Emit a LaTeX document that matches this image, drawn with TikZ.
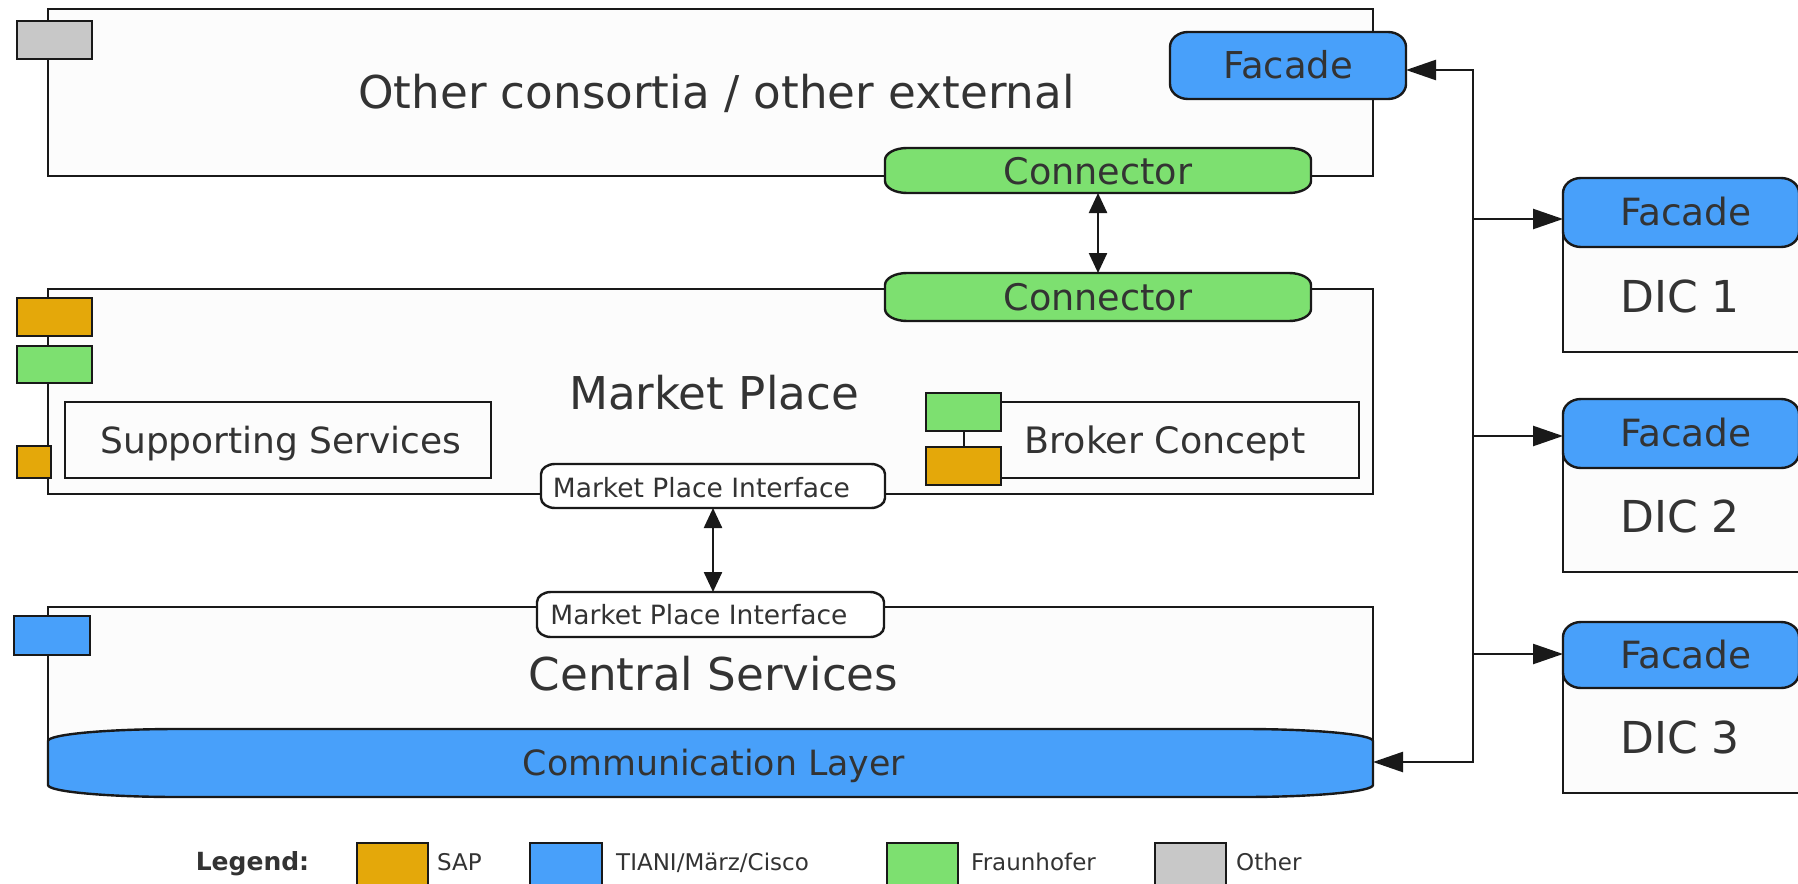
\documentclass[tikz,border=0pt]{standalone}
\usepackage{fontspec}
\setmainfont{DejaVu Sans}
\usetikzlibrary{arrows.meta}
\definecolor{cblue}{RGB}{72,160,250}
\definecolor{cgreen}{RGB}{125,224,112}
\definecolor{corange}{RGB}{228,168,10}
\definecolor{cgray}{RGB}{200,200,200}
\definecolor{cfill}{RGB}{252,252,252}
\definecolor{ctext}{RGB}{51,51,51}
\definecolor{cline}{RGB}{25,25,25}
\newcommand\fs[1]{\fontsize{#1}{#1}\selectfont}
% rectangle node from corner to corner
\newcommand\boxat[6]{\node[#6, anchor=north west, minimum width={#4-#2}, minimum height={#5-#3}] (#1) at (#2,#3) {};}
% barrel shaped node (elliptic corners): name x1 y1 x2 y2 rx ry fill
\newcommand\barrelnode[8]{%
  \path[draw=cline, line width=2.4pt, fill=#8]
    (#2,#3+#7) .. controls (#2,#3+0.448*#7) and (#2+0.448*#6,#3) .. (#2+#6,#3)
    -- (#4-#6,#3) .. controls (#4-0.448*#6,#3) and (#4,#3+0.448*#7) .. (#4,#3+#7)
    -- (#4,#5-#7) .. controls (#4,#5-0.448*#7) and (#4-0.448*#6,#5) .. (#4-#6,#5)
    -- (#2+#6,#5) .. controls (#2+0.448*#6,#5) and (#2,#5-0.448*#7) .. (#2,#5-#7) -- cycle;
  \node[inner sep=0pt, outer sep=0pt, anchor=north west, minimum width={#4-#2}, minimum height={#5-#3}] (#1) at (#2,#3) {};}
\tikzset{
  ln/.style={draw=cline, line width=2.4pt},
  cont/.style={ln, fill=cfill, inner sep=0pt, outer sep=0pt},
  lbl/.style={text=ctext, inner sep=0pt, anchor=base},
  lblw/.style={text=ctext, inner sep=0pt, anchor=base west},
  arr/.style={draw=cline, line width=2.4pt, -{Triangle[length=30pt,width=20pt]}},
  darr/.style={draw=cline, line width=2.4pt, {Triangle[length=20pt,width=18pt]}-{Triangle[length=20pt,width=18pt]}},
}
\begin{document}
\begin{tikzpicture}[x=1pt,y=-1pt]
\useasboundingbox (0,0) rectangle (1798,883);
\fill[white] (0,0) rectangle (1798,883);
\clip (0,0) rectangle (1798,883);
% containers
\boxat{other}{48}{9}{1373}{176}{cont}
\boxat{market}{48}{289}{1373}{494}{cont}
\boxat{central}{48}{607}{1373}{762}{cont}
\boxat{supp}{65}{402}{491}{478}{cont}
\boxat{broker}{964}{402}{1359}{478}{cont}
\boxat{dicA}{1563}{212}{1810}{352}{cont}
\boxat{dicB}{1563}{434}{1810}{572}{cont}
\boxat{dicC}{1563}{655}{1810}{793}{cont}
% small component squares
\boxat{sqGray}{17}{21}{92}{59}{cont,fill=cgray}
\boxat{sqOrA}{17}{298}{92}{336}{cont,fill=corange}
\boxat{sqGrA}{17}{346}{92}{383}{cont,fill=cgreen}
\boxat{sqOrB}{17}{446}{51}{478}{cont,fill=corange}
\boxat{sqBlue}{14}{616}{90}{655}{cont,fill=cblue}
\boxat{sqGrB}{926}{393}{1001}{431}{cont,fill=cgreen}
\boxat{sqOrC}{926}{447}{1001}{485}{cont,fill=corange}
% barrel shapes
\barrelnode{conn1}{885}{148}{1311}{193}{22}{12}{cgreen}
\barrelnode{conn2}{885}{273}{1311}{321}{22}{12}{cgreen}
\barrelnode{facTop}{1170}{32}{1406}{99}{18}{15}{cblue}
\barrelnode{mpiA}{541}{464}{885}{508}{14}{10}{white}
\barrelnode{mpiB}{537}{592}{884}{637}{14}{10}{white}
\barrelnode{comm}{48}{729}{1373}{797}{130}{12}{cblue}
\barrelnode{facA}{1563}{178}{1799}{247}{18}{15}{cblue}
\barrelnode{facB}{1563}{399}{1799}{468}{18}{15}{cblue}
\barrelnode{facC}{1563}{622}{1799}{688}{18}{15}{cblue}
% texts
\node[lbl, font=\fs{45.2}] (tOther) at (716.5,108.5) {Other consortia / other external};
\node[lbl, font=\fs{45.2}] (tMarket) at (714,409) {Market Place};
\node[lbl, font=\fs{45.2}] (tCentral) at (713.5,690) {Central Services};
\node[lbl, font=\fs{37}] (tFacTop) at (1288,78.5) {Facade};
\node[lbl, font=\fs{36.6}] (tConn1) at (1098,184) {Connector};
\node[lbl, font=\fs{36.6}] (tConn2) at (1098,310) {Connector};
\node[lbl, font=\fs{36}] (tSupp) at (281,453) {Supporting Services};
\node[lbl, font=\fs{36.4}] (tBroker) at (1165,453) {Broker Concept};
\node[lbl, font=\fs{26.5}] (tMpiA) at (701.5,497) {Market Place Interface};
\node[lbl, font=\fs{26.5}] (tMpiB) at (699,624) {Market Place Interface};
\node[lbl, font=\fs{34.8}] (tComm) at (714,775) {Communication Layer};
\node[lbl, font=\fs{37.5}] (tFacA) at (1686,225.5) {Facade};
\node[lbl, font=\fs{37.5}] (tFacB) at (1686,446.5) {Facade};
\node[lbl, font=\fs{37.5}] (tFacC) at (1686,668) {Facade};
\node[lbl, font=\fs{44}] (tDicA) at (1680,312) {DIC 1};
\node[lbl, font=\fs{44}] (tDicB) at (1680,532) {DIC 2};
\node[lbl, font=\fs{44}] (tDicC) at (1680,753) {DIC 3};
% legend
\node[lbl, font=\bfseries\fs{25}] (tLeg) at (252.5,870) {Legend:};
\boxat{legSap}{357}{843}{428}{900}{cont,fill=corange}
\boxat{legTiani}{530}{843}{602}{900}{cont,fill=cblue}
\boxat{legFh}{887}{843}{958}{900}{cont,fill=cgreen}
\boxat{legOther}{1155}{843}{1226}{900}{cont,fill=cgray}
\node[lblw, font=\fs{23}] (tSap) at (437,870) {SAP};
\node[lblw, font=\fs{23}] (tTiani) at (616,870) {TIANI/März/Cisco};
\node[lblw, font=\fs{23}] (tFh) at (971,870) {Fraunhofer};
\node[lblw, font=\fs{23}] (tOth) at (1236,870) {Other};
% connectors
\draw[darr] (conn1) -- (conn2);
\draw[darr] (mpiA.south) -- (mpiA.south |- mpiB.north);
\coordinate (busT) at (1473,70);
\coordinate (busB) at (1473,762);
\coordinate (bus1) at (1473,219);
\coordinate (bus2) at (1473,436);
\coordinate (bus3) at (1473,654);
\draw[ln, line cap=rect] (busT) -- (busB);
\draw[arr] (busT) -- (facTop.east |- busT);
\draw[arr] (busB) -- (comm.east |- busB);
\draw[arr] (bus1) -- (facA.west |- bus1);
\draw[arr] (bus2) -- (facB.west |- bus2);
\draw[arr] (bus3) -- (facC.west |- bus3);
\end{tikzpicture}
\end{document}
